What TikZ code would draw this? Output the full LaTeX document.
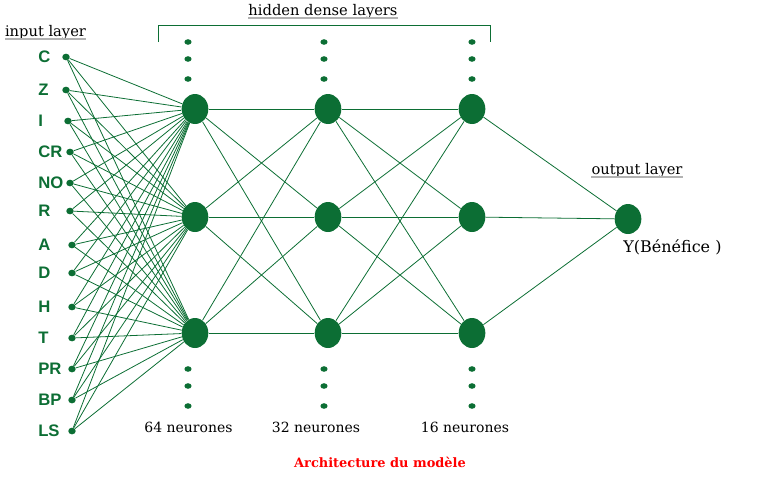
\documentclass[tikz,border=0pt]{standalone}
\usepackage{fontspec}
\setmainfont{DejaVu Serif}
\setsansfont{Liberation Sans}
\usetikzlibrary{shapes.geometric}
\definecolor{vert}{HTML}{0C6E34}
\tikzset{
	every node/.style={
		font=\fontsize{10.5}{12}\selectfont
	},
	neurone/.style={
		shape=ellipse,
		fill=vert,
		inner sep=0pt,
		minimum width=20pt,
		minimum height=22.5pt
	},
	entree/.style={
		shape=ellipse,
		fill=vert,
		inner sep=0pt,
		minimum width=5.6pt,
		minimum height=5pt
	},
	pointille/.style={
		shape=ellipse,
		fill=vert,
		inner sep=0pt,
		minimum width=5.4pt,
		minimum height=4.2pt
	},
	etiquette/.style={
		anchor=west,
		inner sep=0pt,
		text=vert,
		font=\sffamily\bfseries\fontsize{12.5}{14}\selectfont
	},
	titre/.style={
		anchor=base,
		inner sep=0pt,
		font=\fontsize{11}{13}\selectfont,
		append after command={([yshift=-2pt]\tikzlastnode.base west) edge[draw=gray!60, line width=1.6pt] ([yshift=-2pt]\tikzlastnode.base east)}
	},
	texte/.style={
		anchor=base,
		inner sep=0pt
	},
	lien/.style={draw=vert, line width=0.6pt},
	accolade/.style={draw=vert, line width=0.7pt},
}
\begin{document}
\begin{tikzpicture}[x=0.75pt,y=-0.75pt]
	\useasboundingbox (0,0) rectangle (759,479);
	
	% couche d'entree
	\foreach \nom/\x/\y [count=\i] in {C/66/57,Z/66/90,I/68/121,CR/70/152,NO/70/183,R/70/211,A/72/245,D/72/273,H/72/307,T/72/338,PR/72/369,BP/72/400,LS/72/431} {
		\node[entree] (e\i) at (\x,\y) {};
		\node[etiquette] (l\i) at (38,\y) {\nom};
	}
	
	% couches cachees
	\foreach \x [count=\c] in {195,328,472} {
		\foreach \y [count=\r] in {109,217,333} {
			\node[neurone] (h\c\r) at (\x,\y) {};
		}
	}
	\foreach \x [count=\c] in {188,324,472} {
		\foreach \y [count=\k] in {42,59,79,369,386,406} {
			\node[pointille] (p\c\k) at (\x,\y) {};
		}
	}
	
	% couche de sortie
	\node[neurone] (s) at (628,219) {};
	
	% liens
	\foreach \i in {1,...,13} {
		\foreach \r in {1,2,3} {
			\draw[lien] (e\i) -- (h1\r);
		}
	}
	\foreach \r in {1,2,3} {
		\foreach \q in {1,2,3} {
			\draw[lien] (h1\r) -- (h2\q);
			\draw[lien] (h2\r) -- (h3\q);
		}
		\draw[lien] (h3\r) -- (s);
	}
	
	\draw[accolade] (158,42) |- (490,25) -- (490,42);
	
	% textes
	\node[titre] (tin) at (45.5,36.5) {input layer};
	\node[titre] (tcache) at (323,15) {hidden dense layers};
	\node[titre] (tsortie) at (637,174.5) {output layer};
	\node[texte, anchor=base west, font=\fontsize{12}{14}\selectfont] (ybenef) at (623,252.5) {Y(Bénéfice )};
	\node[texte] (n64) at (188.5,432) {64 neurones};
	\node[texte] (n32) at (316,432.5) {32 neurones};
	\node[texte] (n16) at (465,432.5) {16 neurones};
	\node[texte, text=red, font=\bfseries\fontsize{9.7}{12}\selectfont] (archi) at (380,467) {Architecture du modèle};
	
\end{tikzpicture}
\end{document}
